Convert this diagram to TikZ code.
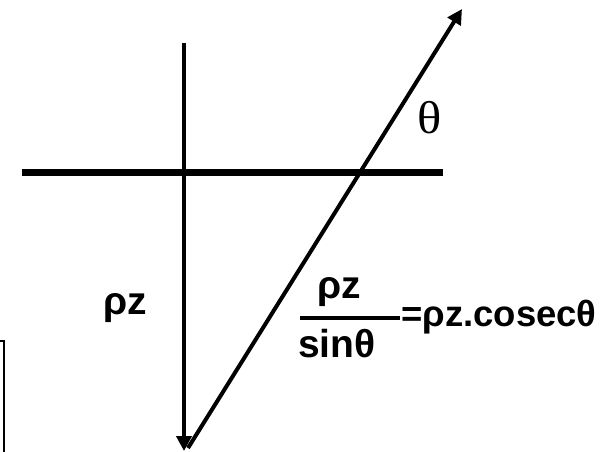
\documentclass[tikz,border=0pt]{standalone}
\usepackage{fontspec}
\setmainfont{Liberation Sans}
\newfontfamily\grserif{Liberation Serif}
\usetikzlibrary{arrows.meta}
\begin{document}
\begin{tikzpicture}[x=1pt,y=-1pt,
  axis/.style={line width=4pt,-{Triangle[length=15pt,width=15pt]}},
  bigtxt/.style={inner sep=0pt,anchor=base west,font=\fontsize{39}{43}\selectfont\bfseries},
  smalltxt/.style={inner sep=0pt,anchor=base west,font=\fontsize{36.5}{40}\selectfont\bfseries}]
\useasboundingbox (0,0) rectangle (606,452);
% coordinates
\coordinate (vtop) at (184,43);
\coordinate (vbot) at (184,451);
\coordinate (hl) at (22,172.5);
\coordinate (hr) at (443,172.5);
\coordinate (dbot) at (188,448);
\coordinate (dtop) at (462,9);
\coordinate (barl) at (300,318);
\coordinate (barr) at (400,318);
\coordinate (boxa) at (0,341);
\coordinate (boxb) at (4,341);
\coordinate (boxc) at (4,452);
% lines
\draw[line width=7pt] (hl) -- (hr);
\draw[axis] (vtop) -- (vbot);
\draw[axis] (dbot) -- (dtop);
\draw[line width=4pt] (barl) -- (barr);
\draw[line width=1.3pt] (boxa) -- (boxb) -- (boxc);
% texts
\node[inner sep=0pt,anchor=base west,xscale=1.1,font=\fontsize{46}{50}\selectfont\grserif] (theta) at (417,134) {θ};
\node[bigtxt] (rz) at (103,314) {ρz};
\node[bigtxt] (num) at (317,298) {ρz};
\node[bigtxt] (den) at (298,357) {sinθ};
\node[smalltxt] (eq) at (401,326) {=ρz.cosecθ};
\end{tikzpicture}
\end{document}
